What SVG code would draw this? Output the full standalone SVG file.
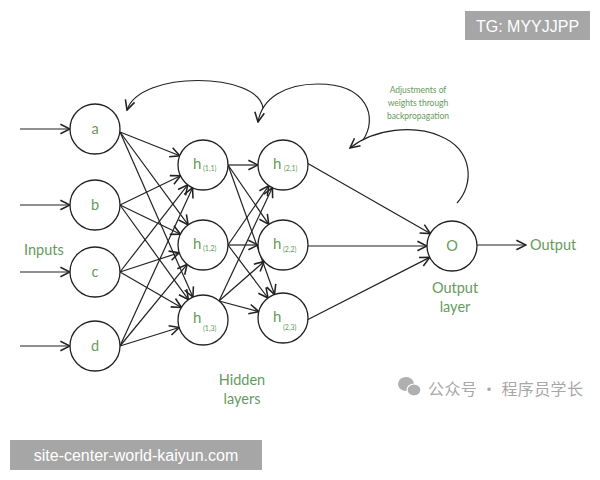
<svg xmlns="http://www.w3.org/2000/svg" width="600" height="480" viewBox="0 0 600 480">
<style>
.n{fill:#fff;stroke:#222;stroke-width:1.3}
.e{fill:none;stroke:#222;stroke-width:1.2}
.t{font-family:Lato,"Noto Sans",sans-serif;fill:#669a5c}
.lbl{font-size:14.5px;text-anchor:middle}
.h{font-size:15px}
.s{font-size:7px}
.wm{font-family:"Liberation Sans",Arial,sans-serif;fill:#fff;font-size:16px;text-anchor:middle}
</style>
<defs>
<marker id="ar" markerUnits="userSpaceOnUse" markerWidth="12" markerHeight="12" viewBox="0 0 10 10" refX="9" refY="5" orient="auto">
<path d="M1,1 L9,5 L1,9" fill="none" stroke="#222" stroke-width="1.3"/>
</marker>
</defs>
<rect width="600" height="480" fill="#fff"/>

<g id="connectors" class="e" marker-end="url(#ar)">
<!-- inputs -->
<line x1="20" y1="129" x2="70" y2="129"/>
<line x1="20" y1="205" x2="70" y2="205"/>
<line x1="20" y1="272" x2="70" y2="272"/>
<line x1="20" y1="346" x2="70" y2="346"/>
<!-- input -> hidden1 -->
<line x1="120" y1="132" x2="179.8" y2="155.8"/>
<line x1="120" y1="132" x2="188.2" y2="224.9"/>
<line x1="120" y1="132" x2="192.9" y2="297.1"/>
<line x1="120" y1="205" x2="180.5" y2="175.8"/>
<line x1="120" y1="205" x2="180.5" y2="234.2"/>
<line x1="120" y1="205" x2="188.4" y2="299.7"/>
<line x1="120" y1="272" x2="187.7" y2="184.8"/>
<line x1="120" y1="272" x2="179.2" y2="252.7"/>
<line x1="120" y1="272" x2="181.4" y2="307.5"/>
<line x1="120" y1="346" x2="192.6" y2="187.7"/>
<line x1="120" y1="346" x2="187.1" y2="264.3"/>
<line x1="120" y1="346" x2="179.2" y2="327.5"/>
<!-- hidden1 -> hidden2 -->
<line x1="228" y1="165" x2="258" y2="165"/>
<line x1="228" y1="165" x2="268.8" y2="224.4"/>
<line x1="228" y1="165" x2="274.5" y2="294.5"/>
<line x1="228" y1="245" x2="268.8" y2="185.6"/>
<line x1="228" y1="245" x2="258" y2="245"/>
<line x1="228" y1="245" x2="268" y2="298"/>
<line x1="219" y1="301" x2="272.4" y2="187.6"/>
<line x1="219" y1="301" x2="264.2" y2="261.5"/>
<line x1="219" y1="301" x2="258.8" y2="311.6"/>
<!-- hidden2 -> output -->
<line x1="307" y1="163" x2="430.3" y2="233.6"/>
<line x1="308" y1="246" x2="427" y2="246"/>
<line x1="307" y1="320" x2="429.7" y2="257.4"/>
<line x1="477" y1="245" x2="526" y2="245"/>
<!-- backpropagation arcs -->
<path d="M263,108 C258,72 140,70 127,110"/>
<path d="M363,140 C378,118 368,84 318,84 C285,84 262,98 258,122"/>
<path d="M457,203 C474,185 474,150 440,136 C415,125 375,128 350,148"/>
</g>

<g id="node-a"><circle class="n" cx="95" cy="129" r="25"/><text class="t lbl" x="95" y="134">a</text></g>
<g id="node-b"><circle class="n" cx="95" cy="205" r="25"/><text class="t lbl" x="95" y="210">b</text></g>
<g id="node-c"><circle class="n" cx="95" cy="272" r="25"/><text class="t lbl" x="95" y="277">c</text></g>
<g id="node-d"><circle class="n" cx="95" cy="346" r="25"/><text class="t lbl" x="95" y="351">d</text></g>

<g id="node-h11"><circle class="n" cx="203" cy="165" r="25"/><text class="t h" x="193" y="169">h</text><text class="t s" x="203" y="171">(1,1)</text></g>
<g id="node-h12"><circle class="n" cx="203" cy="245" r="25"/><text class="t h" x="193" y="249">h</text><text class="t s" x="203" y="251">(1,2)</text></g>
<g id="node-h13"><circle class="n" cx="203" cy="320" r="25"/><text class="t h" x="193" y="323">h</text><text class="t s" x="203" y="331">(1,3)</text></g>

<g id="node-h21"><circle class="n" cx="283" cy="165" r="25"/><text class="t h" x="273" y="169">h</text><text class="t s" x="284" y="171">(2,1)</text></g>
<g id="node-h22"><circle class="n" cx="283" cy="245" r="25"/><text class="t h" x="273" y="249">h</text><text class="t s" x="283" y="252">(2,2)</text></g>
<g id="node-h23"><circle class="n" cx="283" cy="318" r="25"/><text class="t h" x="273" y="322">h</text><text class="t s" x="283" y="330">(2,3)</text></g>

<g id="node-o"><circle class="n" cx="452" cy="246" r="25"/><text class="t lbl" x="452" y="251">O</text></g>

<g id="labels">
<text class="t" x="24" y="255" font-size="14.5">Inputs</text>
<text class="t" x="530" y="250" font-size="14.5">Output</text>
<text class="t lbl" x="455" y="293">Output</text>
<text class="t lbl" x="455" y="312">layer</text>
<text class="t lbl" x="242" y="385">Hidden</text>
<text class="t lbl" x="242" y="404">layers</text>
<text class="t" x="418" y="93" font-size="8.5" text-anchor="middle">Adjustments of</text>
<text class="t" x="418" y="106" font-size="8.5" text-anchor="middle">weights through</text>
<text class="t" x="418" y="119" font-size="8.5" text-anchor="middle">backpropagation</text>
</g>

<g id="watermarks">
<rect x="465" y="11" width="125" height="29" fill="#a6a6a6"/>
<text class="wm" x="527.5" y="32">TG: MYYJJPP</text>
<rect x="10" y="440" width="252" height="30" fill="#a6a6a6"/>
<text class="wm" x="136" y="461">site-center-world-kaiyun.com</text>
<ellipse cx="406" cy="384" rx="8" ry="7" fill="#b0b0b0"/>
<ellipse cx="414" cy="390" rx="7" ry="6" fill="#b0b0b0" stroke="#fff" stroke-width="1.2"/>
<text x="428" y="395" font-family="'Noto Sans CJK SC',sans-serif" font-size="16" fill="#a8a8a8" textLength="155">公众号 · 程序员学长</text>
</g>
</svg>
